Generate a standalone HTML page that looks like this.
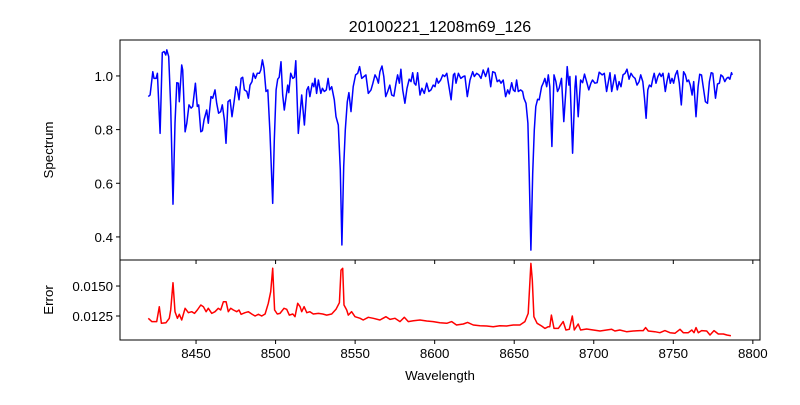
<!DOCTYPE html>
<html><head><meta charset="utf-8"><style>
html,body{margin:0;padding:0;background:#fff;}
svg text{font-family:"Liberation Sans","DejaVu Sans",sans-serif;}
</style></head><body>
<svg id="chart" width="800" height="400" xmlns="http://www.w3.org/2000/svg">
<rect width="800" height="400" fill="#fff"/>
<text x="440" y="32" font-size="16" text-anchor="middle">20100221_1208m69_126</text>
<text x="53" y="150" font-size="13.3" text-anchor="middle" transform="rotate(-90 53 150)">Spectrum</text>
<text x="53" y="300" font-size="13.3" text-anchor="middle" transform="rotate(-90 53 300)">Error</text>
<text x="440" y="380" font-size="13.3" text-anchor="middle">Wavelength</text>
<g id="marks"></g>
</svg>
<script>
const wl=[8420.0,8421.1,8422.8,8423.6,8424.9,8425.7,8427.4,8428.8,8429.9,8431.0,8431.6,8432.8,8434.1,8435.5,8436.8,8437.9,8438.9,8439.5,8441.0,8441.6,8443.1,8444.2,8445.6,8446.9,8447.9,8449.6,8450.8,8451.7,8453.0,8454.0,8455.0,8456.7,8457.7,8459.4,8460.5,8461.9,8463.0,8464.2,8465.5,8466.5,8467.8,8468.8,8470.1,8471.4,8472.6,8473.9,8475.1,8476.0,8477.0,8478.3,8479.3,8480.4,8481.9,8482.9,8483.9,8485.2,8486.0,8487.3,8488.5,8489.8,8490.7,8491.7,8492.7,8494.0,8495.1,8496.5,8498.2,8499.2,8500.3,8501.3,8502.3,8503.4,8504.5,8505.5,8506.6,8507.6,8508.3,8509.5,8510.8,8511.8,8512.7,8514.3,8516.4,8518.1,8519.6,8520.6,8521.6,8523.1,8524.1,8524.8,8525.8,8526.9,8528.4,8529.4,8530.6,8531.9,8533.0,8534.0,8535.3,8536.9,8538.0,8539.4,8540.7,8541.7,8542.8,8543.8,8545.1,8546.1,8547.4,8548.8,8550.3,8551.6,8552.8,8554.1,8555.6,8556.8,8558.3,8560.0,8561.2,8562.5,8563.7,8564.6,8565.6,8566.9,8568.0,8569.2,8570.5,8571.8,8573.0,8574.4,8575.7,8576.7,8577.8,8578.8,8579.9,8581.3,8582.6,8584.0,8585.1,8586.2,8587.2,8588.2,8589.3,8590.8,8592.0,8593.5,8595.0,8596.4,8597.7,8599.1,8600.2,8601.3,8602.3,8603.8,8605.1,8606.3,8607.6,8609.0,8610.3,8611.8,8612.6,8613.4,8614.9,8616.4,8618.0,8619.0,8620.5,8622.2,8623.9,8624.9,8626.4,8627.8,8629.1,8630.5,8632.0,8633.7,8635.2,8636.5,8637.9,8639.3,8640.6,8641.7,8643.1,8644.6,8645.9,8646.9,8648.4,8649.4,8650.5,8651.5,8652.6,8654.1,8655.3,8656.1,8657.4,8658.6,8659.4,8660.5,8661.6,8662.6,8663.6,8664.7,8665.7,8667.2,8668.2,8669.3,8670.4,8671.4,8672.4,8673.7,8675.0,8676.2,8677.2,8678.2,8679.7,8681.2,8682.5,8683.3,8684.4,8685.0,8686.7,8688.2,8688.8,8690.2,8691.7,8693.0,8694.2,8695.5,8696.9,8698.2,8699.2,8700.7,8702.1,8703.4,8705.3,8706.6,8708.1,8709.2,8710.2,8711.3,8712.3,8713.3,8714.8,8715.9,8717.1,8718.4,8719.7,8720.9,8722.2,8723.4,8724.7,8726.0,8727.2,8728.5,8729.5,8730.8,8731.9,8732.9,8734.0,8735.0,8736.1,8737.2,8738.0,8739.1,8740.3,8741.4,8742.4,8743.5,8745.0,8746.0,8747.1,8748.1,8749.2,8750.2,8751.3,8752.5,8753.8,8755.0,8756.5,8757.6,8758.6,8759.6,8760.7,8761.8,8762.8,8764.3,8765.6,8766.6,8767.7,8768.8,8770.2,8771.5,8772.7,8773.8,8774.8,8776.5,8777.8,8779.0,8779.9,8781.1,8782.4,8783.5,8784.5,8785.6,8786.6,8787.1];
const flux=[0.923,0.929,1.016,0.991,0.991,1.010,0.786,1.087,1.091,1.078,1.097,1.072,0.886,0.522,0.824,0.975,0.973,0.904,1.041,1.022,0.792,0.824,0.892,0.880,0.886,0.973,0.886,0.892,0.792,0.796,0.836,0.873,0.824,0.923,0.917,0.948,0.898,0.861,0.867,0.892,0.836,0.749,0.904,0.911,0.848,0.904,0.960,0.948,0.911,0.991,0.995,0.948,0.942,0.917,0.966,0.979,1.010,0.991,1.010,1.010,1.022,1.060,1.029,0.942,0.948,0.786,0.525,0.761,0.948,0.988,0.995,1.053,0.929,0.873,0.923,0.966,0.938,1.010,0.991,0.995,1.057,0.786,0.929,0.817,0.948,0.960,0.923,0.973,0.960,0.991,0.935,0.985,0.935,0.954,0.942,0.948,0.991,0.948,0.960,0.911,0.848,0.817,0.650,0.370,0.662,0.799,0.904,0.938,0.867,0.960,1.004,1.010,1.035,0.991,0.998,1.004,0.935,0.948,0.973,1.004,0.991,0.973,1.016,1.037,0.998,0.923,0.942,0.966,0.929,0.925,0.973,1.004,0.973,1.025,0.948,0.898,0.954,0.988,0.979,1.012,0.973,0.966,1.012,0.929,0.954,0.935,0.973,0.942,0.948,0.966,0.960,0.991,0.973,0.985,1.004,0.998,1.010,0.960,0.911,1.004,1.010,0.973,1.010,0.991,0.998,1.000,0.923,0.985,1.016,0.998,1.010,1.004,0.991,1.022,0.998,1.029,0.960,1.016,1.012,0.979,0.985,0.973,0.985,0.923,0.948,0.933,0.975,0.948,0.942,0.985,0.942,0.948,0.942,0.917,0.898,0.824,0.637,0.351,0.637,0.799,0.886,0.913,0.911,0.960,0.973,0.991,0.960,1.004,0.960,0.737,1.004,0.979,0.942,0.954,0.991,0.830,0.948,1.035,0.966,0.998,0.712,0.960,1.000,0.848,0.985,0.975,1.007,0.979,0.948,0.973,0.985,0.973,0.975,1.014,1.004,1.010,0.942,0.979,1.012,0.942,0.973,1.004,0.948,0.979,0.960,1.004,1.010,1.025,0.988,1.010,0.998,0.991,0.966,0.979,1.004,0.979,0.917,0.842,0.948,0.966,0.960,0.991,1.010,0.973,0.998,1.010,0.998,1.010,0.942,0.979,1.010,0.973,0.991,0.973,1.004,1.020,0.973,0.892,1.016,1.004,0.979,0.985,0.966,0.929,0.979,0.848,0.960,1.006,1.004,0.960,0.904,0.898,0.979,1.012,1.010,0.917,0.970,0.973,1.004,0.998,0.979,0.991,0.995,0.988,1.012,1.004];
const ewl=[8420.0,8422.2,8425.3,8426.9,8428.2,8431.1,8433.2,8434.1,8435.5,8436.8,8438.3,8439.5,8441.0,8443.1,8445.2,8447.3,8449.0,8450.8,8453.0,8454.6,8456.3,8457.7,8459.9,8461.9,8464.0,8465.5,8467.2,8468.9,8470.3,8471.8,8473.5,8475.6,8477.0,8478.3,8480.8,8482.9,8485.0,8487.1,8489.2,8491.3,8493.4,8495.4,8496.9,8498.2,8499.4,8501.1,8502.8,8505.3,8507.0,8508.6,8510.8,8512.2,8513.9,8515.4,8516.4,8517.9,8519.6,8521.6,8523.7,8526.9,8529.6,8532.1,8535.3,8538.0,8540.1,8541.1,8542.2,8543.0,8544.7,8545.7,8547.8,8549.9,8553.1,8555.1,8558.3,8561.4,8565.6,8569.4,8571.9,8575.0,8578.2,8580.9,8583.4,8586.6,8590.8,8595.0,8599.1,8603.3,8607.6,8610.7,8613.7,8618.0,8620.7,8624.3,8628.5,8632.7,8636.8,8641.0,8645.2,8649.4,8653.6,8656.7,8658.8,8659.9,8660.5,8661.4,8662.4,8664.4,8667.2,8669.3,8671.4,8672.4,8673.4,8675.0,8677.7,8680.8,8682.5,8684.6,8686.5,8687.8,8690.2,8691.7,8695.5,8699.7,8703.9,8708.1,8711.3,8713.3,8716.4,8720.6,8724.8,8729.0,8731.1,8732.6,8734.3,8738.4,8741.6,8744.7,8747.9,8751.0,8754.2,8756.3,8759.4,8761.6,8763.0,8764.3,8765.7,8767.8,8771.0,8773.1,8775.6,8778.3,8781.5,8783.6,8786.2];
const err=[0.01231,0.01203,0.01203,0.01328,0.01189,0.01194,0.01231,0.01300,0.01528,0.01286,0.01231,0.01264,0.01217,0.01314,0.01278,0.01286,0.01272,0.01300,0.01342,0.01328,0.01286,0.01314,0.01272,0.01286,0.01314,0.01300,0.01369,0.01369,0.01286,0.01314,0.01300,0.01286,0.01300,0.01264,0.01278,0.01286,0.01267,0.01250,0.01264,0.01250,0.01267,0.01356,0.01453,0.01648,0.01300,0.01267,0.01272,0.01314,0.01306,0.01258,0.01267,0.01244,0.01356,0.01328,0.01286,0.01328,0.01278,0.01286,0.01267,0.01272,0.01267,0.01258,0.01267,0.01306,0.01361,0.01633,0.01648,0.01342,0.01300,0.01258,0.01286,0.01244,0.01231,0.01217,0.01239,0.01231,0.01217,0.01244,0.01222,0.01231,0.01203,0.01239,0.01203,0.01211,0.01217,0.01208,0.01203,0.01194,0.01189,0.01203,0.01175,0.01183,0.01197,0.01175,0.01169,0.01167,0.01161,0.01169,0.01167,0.01175,0.01175,0.01203,0.01272,0.01550,0.01689,0.01550,0.01244,0.01189,0.01167,0.01147,0.01161,0.01161,0.01258,0.01147,0.01147,0.01203,0.01133,0.01139,0.01250,0.01133,0.01183,0.01133,0.01142,0.01133,0.01125,0.01133,0.01139,0.01125,0.01133,0.01119,0.01125,0.01128,0.01128,0.01153,0.01125,0.01119,0.01111,0.01128,0.01111,0.01106,0.01139,0.01111,0.01111,0.01133,0.01111,0.01153,0.01111,0.01128,0.01125,0.01092,0.01128,0.01100,0.01100,0.01092,0.01086];
const xTicks=[8450,8500,8550,8600,8650,8700,8750,8800];
const fluxTicks=[0.4,0.6,0.8,1.0];
const fluxTickLabels=["0.4","0.6","0.8","1.0"];
const errTicks=[0.0125,0.0150];
const errTickLabels=["0.0125","0.0150"];

const L=120,R=760,T1=40,B1=260,T2=260,B2=340;
const X0=8402.2,X1=8804.5,F0=0.314,F1=1.134,E0=0.0105,E1=0.01717;
const xS=v=>L+(v-X0)/(X1-X0)*(R-L);
const fS=v=>B1-(v-F0)/(F1-F0)*(B1-T1);
const eS=v=>B2-(v-E0)/(E1-E0)*(B2-T2);
const NS='http://www.w3.org/2000/svg';
const g=document.getElementById('marks');
function mk(tag,attrs){const e=document.createElementNS(NS,tag);for(const k in attrs)e.setAttribute(k,attrs[k]);g.appendChild(e);return e;}

let d=wl.map((w,i)=>(i?'L':'M')+xS(w).toFixed(1)+','+fS(flux[i]).toFixed(1)).join('');
let p=mk('path',{d:d,fill:'none',stroke:'#0000ff','stroke-width':1.5,'stroke-linejoin':'round'});


d=ewl.map((w,i)=>(i?'L':'M')+xS(w).toFixed(1)+','+eS(err[i]).toFixed(1)).join('');
p=mk('path',{d:d,fill:'none',stroke:'#ff0000','stroke-width':1.5,'stroke-linejoin':'round'});



let r=mk('rect',{x:L,y:T1,width:R-L,height:B1-T1,fill:'none',stroke:'#000','stroke-width':1});


r=mk('rect',{x:L,y:T2,width:R-L,height:B2-T2,fill:'none',stroke:'#000','stroke-width':1});



xTicks.forEach(v=>{const x=xS(v);
 let t=mk('line',{x1:x,x2:x,y1:B2,y2:B2+4,stroke:'#000'});
 
 
 t=mk('line',{x1:x,x2:x,y1:B1,y2:B1+4,stroke:'#000'});
 
 
 const tx=mk('text',{x:x,y:B2+18,'font-size':13.3,'text-anchor':'middle'});tx.textContent=String(v);
 
 
});
fluxTicks.forEach((v,i)=>{const y=fS(v);
 const t=mk('line',{x1:L-4,x2:L,y1:y,y2:y,stroke:'#000'});
 
 
 const tx=mk('text',{x:L-7,y:y+5,'font-size':13.3,'text-anchor':'end'});tx.textContent=fluxTickLabels[i];
 
 
});
errTicks.forEach((v,i)=>{const y=eS(v);
 const t=mk('line',{x1:L-4,x2:L,y1:y,y2:y,stroke:'#000'});
 
 
 const tx=mk('text',{x:L-7,y:y+5,'font-size':13.3,'text-anchor':'end'});tx.textContent=errTickLabels[i];
 
 
});
</script>
</body></html>
